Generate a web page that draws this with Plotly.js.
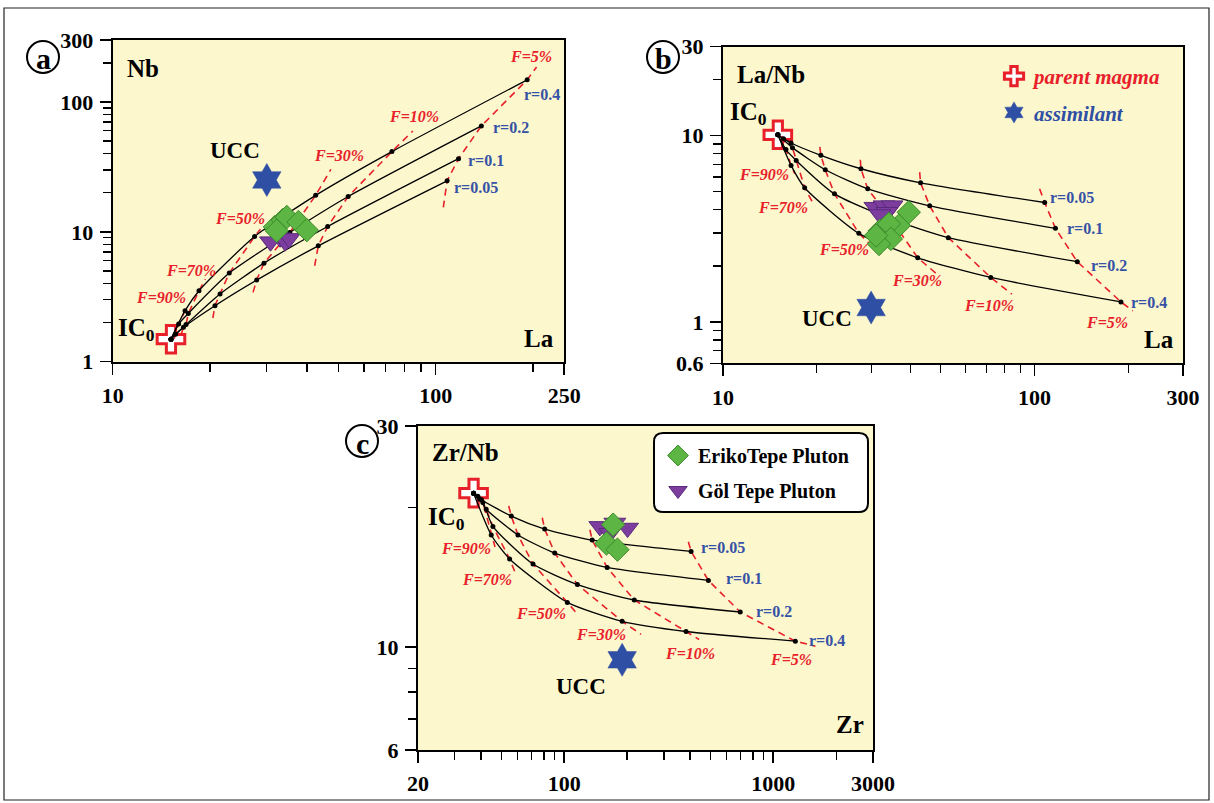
<!DOCTYPE html>
<html><head><meta charset="utf-8">
<script src="https://cdn.plot.ly/plotly-3.0.1.min.js"></script>
<style>html,body{margin:0;padding:0;background:#fff}#chart{width:1214px;height:803px}</style>
</head><body><div id="chart"></div>
<script>
// ---------------- DATA ----------------
// Panel a : Nb vs La
const aIC0_La = [15.15], aIC0_Nb = [1.49];
const aUCC_La = [30.0],  aUCC_Nb = [25.1];
const aR005_La = [15.15, 15.65, 16.56, 20.73, 27.9, 43.3, 108.5];
const aR005_Nb = [1.49, 1.63, 1.84, 2.70, 4.25, 7.80, 24.7];
const aR01_La  = [15.15, 16.87, 21.49, 29.4, 46.3, 117.7];
const aR01_Nb  = [1.49, 1.93, 3.32, 5.74, 11.0, 36.6];
const aR02_La  = [15.15, 16.0, 17.14, 22.96, 35.35, 53.6, 138.5];
const aR02_Nb  = [1.49, 1.95, 2.35, 4.81, 9.88, 18.7, 65.4];
const aR04_La  = [15.15, 16.75, 18.5, 27.5, 42.5, 73.2, 192];
const aR04_Nb  = [1.49, 2.47, 3.52, 9.2, 19.1, 41.5, 148];
const aF5_La  = [105.6, 108.5, 117.7, 138.5, 192, 205.3], aF5_Nb  = [15.4, 24.7, 36.6, 65.4, 148, 185.9];
const aF10_La = [42.2, 43.3, 46.3, 53.6, 73.2, 85.0],     aF10_Nb = [5.48, 7.80, 11.0, 18.7, 41.5, 59.8];
const aF30_La = [27.2, 27.9, 29.4, 35.35, 42.5, 47.4],    aF30_Nb = [3.42, 4.25, 5.74, 9.88, 19.1, 30.3];
const aF50_La = [20.42, 20.73, 21.49, 22.96, 27.5, 28.68],aF50_Nb = [2.17, 2.70, 3.32, 4.81, 9.2, 10.48];
const aF70_La = [16.3, 16.56, 16.87, 17.14, 18.5, 19.35], aF70_Nb = [1.62, 1.84, 1.93, 2.35, 3.52, 4.32];
const aF90_La = [15.5, 15.65, 16.0, 16.75, 17.0],         aF90_Nb = [1.5, 1.63, 1.95, 2.47, 2.7];
const aEri_La = [31.8, 33.6, 34.6, 37.6, 39.9, 32.2], aEri_Nb = [10.9, 12.3, 13.0, 11.9, 10.3, 10.2];
const aGol_La = [30.8, 33.0, 34.2, 35.2],             aGol_Nb = [8.4, 9.0, 8.4, 8.9];

// Panel b : La/Nb vs La
const bIC0_La = [15.0], bIC0_R = [10.1];
const bUCC_La = [29.9], bUCC_R = [1.195];
const bR005_La = [15.0, 15.65, 16.54, 20.62, 27.73, 43.1, 107.9];
const bR005_R  = [10.1, 9.63, 9.13, 7.84, 6.64, 5.58, 4.375];
const bR01_La  = [15.0, 16.71, 21.3, 29.15, 46.1, 116.8];
const bR01_R   = [10.1, 8.62, 6.56, 5.18, 4.20, 3.18];
const bR02_La  = [15.0, 15.93, 17.18, 22.8, 34.6, 52.9, 137.3];
const bR02_R   = [10.1, 8.41, 7.36, 4.87, 3.57, 2.835, 2.105];
const bR04_La  = [15.0, 16.54, 18.29, 27.3, 42.2, 72.4, 189.6];
const bR04_R   = [10.1, 6.92, 5.25, 2.99, 2.21, 1.733, 1.281];
const bF5_La  = [103.9, 107.9, 116.8, 137.3, 189.6, 207],  bF5_R  = [5.18, 4.375, 3.18, 2.105, 1.281, 1.146];
const bF10_La = [42.8, 43.1, 46.1, 52.9, 72.4, 84.6],      bF10_R = [6.37, 5.58, 4.20, 2.835, 1.733, 1.41];
const bF30_La = [27.6, 27.73, 29.15, 34.6, 42.2, 48.4],    bF30_R = [7.42, 6.64, 5.18, 3.57, 2.21, 1.82];
const bF50_La = [20.46, 20.62, 21.3, 22.8, 27.3, 32.1],    bF50_R = [8.69, 7.84, 6.56, 4.87, 2.99, 2.30];
const bF70_La = [16.27, 16.54, 16.71, 17.18, 18.29, 19.51],bF70_R = [9.63, 9.13, 8.62, 7.36, 5.25, 4.30];
const bF90_La = [15.43, 15.65, 15.93, 16.54, 17.0],        bF90_R = [9.92, 9.63, 8.41, 6.92, 6.24];
const bEri_La = [39.5, 36.7, 31.9, 34.1, 34.6, 31.7, 31.0], bEri_R = [3.88, 3.29, 3.09, 3.36, 2.79, 2.62, 2.91];
const bGol_La = [30.75, 32.9, 34.9, 33.6, 31.9],            bGol_R = [4.13, 4.21, 4.21, 3.88, 3.77];

// Panel c : Zr/Nb vs Zr
const cIC0_Zr = [36.88], cIC0_R = [21.49];
const cUCC_Zr = [189.4], cUCC_R = [9.39];
const cR005_Zr = [36.88, 38.67, 40.22, 55.86, 80.7, 136.1, 404.6];
const cR005_R  = [21.49, 21.16, 20.80, 19.18, 17.98, 17.02, 16.09];
const cR01_Zr  = [36.88, 39.4, 42.39, 60.13, 90.15, 160.6, 489.8];
const cR01_R   = [21.49, 20.87, 19.84, 17.46, 15.96, 14.86, 13.93];
const cR02_Zr  = [36.88, 40.86, 45.63, 70.96, 115.7, 216.4, 695];
const cR02_R   = [21.49, 20.52, 18.22, 15.11, 13.65, 12.64, 11.91];
const cR04_Zr  = [36.88, 44.8, 54.85, 103.6, 189.4, 382.8, 1275.5];
const cR04_R   = [21.49, 17.46, 15.50, 12.49, 11.37, 10.81, 10.30];
const cF5_Zr  = [392.8, 404.6, 489.8, 695, 1275.5, 1592], cF5_R  = [16.88, 16.09, 13.93, 11.91, 10.30, 10.05];
const cF10_Zr = [132.8, 136.1, 160.6, 216.4, 382.8, 442.2], cF10_R = [17.92, 17.02, 14.86, 12.64, 10.81, 10.39];
const cF30_Zr = [78.6, 80.7, 90.15, 115.7, 189.4, 233.4],  cF30_R = [19.02, 17.98, 15.96, 13.65, 11.37, 10.66];
const cF50_Zr = [54.3, 55.86, 60.13, 70.96, 103.6, 113.4], cF50_R = [20.17, 19.18, 17.46, 15.11, 12.49, 11.91];
const cF70_Zr = [40.22, 42.39, 45.63, 54.85, 59.2],        cF70_R = [20.80, 19.84, 18.22, 15.50, 14.24];
const cF90_Zr = [38.67, 39.4, 40.86, 44.8, 46.7],          cF90_R = [21.16, 20.87, 20.52, 17.46, 16.45];
const cEri_Zr = [171.6, 159.4, 179.9],        cEri_R = [18.38, 16.74, 16.23];
const cGol_Zr = [148.1, 174.8, 201.0, 165.4], cGol_R = [18.22, 18.53, 18.07, 17.61];

// tick labels
const aXticks = [10, 100, 250], aYticks = [1, 10, 100, 300];
const bXticks = [10, 100, 300], bYticks = [0.6, 1, 10, 30];
const cXticks = [20, 100, 1000, 3000], cYticks = [6, 10, 30];
const fLabels = ['F=90%', 'F=70%', 'F=50%', 'F=30%', 'F=10%', 'F=5%'];
const rLabels = ['r=0.05', 'r=0.1', 'r=0.2', 'r=0.4'];

// ---------------- STYLE ----------------
const W = 1214, H = 803;
const SERIF = '"Liberation Serif", "DejaVu Serif", serif';
const RED = '#e8202a', BLUE = '#3652a6', STAR = '#2f4fa5', GREEN = '#5db544', GREEN_L = '#3c8a2c',
      PURPLE = '#7c3d9f', PURPLE_L = '#5a2a7c', BG = '#fcf7cd';
const PX = p => p / W, PY = p => 1 - p / H;
const L10 = Math.log10;

function curve(x, y, xa, ya) {
  return {type: 'scatter', mode: 'lines+markers', x, y, xaxis: xa, yaxis: ya,
    line: {color: 'black', width: 1.3, shape: 'spline', smoothing: 0.6},
    marker: {color: 'black', size: 5}, showlegend: false, hoverinfo: 'skip'};
}
function fline(x, y, xa, ya) {
  return {type: 'scatter', mode: 'lines', x, y, xaxis: xa, yaxis: ya,
    line: {color: RED, width: 1.6, dash: '7px,5px'}, showlegend: false, hoverinfo: 'skip'};
}
function ic0(x, y, xa, ya, show) {
  return {type: 'scatter', mode: 'markers', x, y, xaxis: xa, yaxis: ya,
    name: '<span style="color:' + RED + '"><i>parent magma</i></span>', legend: 'legend', legendgroup: 'pm', legendrank: 1,
    marker: {symbol: 'cross', size: 23, color: '#ffffff', line: {color: RED, width: 3}},
    showlegend: show, hoverinfo: 'skip'};
}
function ucc(x, y, xa, ya, show) {
  return {type: 'scatter', mode: 'markers', x, y, xaxis: xa, yaxis: ya,
    name: '<span style="color:' + STAR + '"><i>assimilant</i></span>', legend: 'legend', legendgroup: 'as', legendrank: 2,
    marker: {symbol: 'hexagram', size: 25, color: STAR, line: {color: STAR, width: 0.5}},
    showlegend: show, hoverinfo: 'skip'};
}
function eri(x, y, xa, ya, show) {
  return {type: 'scatter', mode: 'markers', x, y, xaxis: xa, yaxis: ya,
    name: 'ErikoTepe Pluton', legend: 'legend2', legendgroup: 'er', legendrank: 1,
    marker: {symbol: 'diamond', size: 18, color: GREEN, line: {color: GREEN_L, width: 1}},
    showlegend: show, hoverinfo: 'skip'};
}
function gol(x, y, xa, ya, show) {
  return {type: 'scatter', mode: 'markers', x, y, xaxis: xa, yaxis: ya,
    name: 'Göl Tepe Pluton', legend: 'legend2', legendgroup: 'go', legendrank: 2,
    marker: {symbol: 'triangle-down', size: 19, color: PURPLE, line: {color: PURPLE_L, width: 1}},
    showlegend: show, hoverinfo: 'skip'};
}

const traces = [];
function panel(xa, ya, IC, UC, Rs, Fs, G, E, showLeg1, showLeg2) {
  traces.push(ic0(IC[0], IC[1], xa, ya, showLeg1));
  Fs.forEach(f => traces.push(fline(f[0], f[1], xa, ya)));
  Rs.forEach(r => traces.push(curve(r[0], r[1], xa, ya)));
  traces.push(gol(G[0], G[1], xa, ya, showLeg2));
  traces.push(eri(E[0], E[1], xa, ya, showLeg2));
  traces.push(ucc(UC[0], UC[1], xa, ya, showLeg1));
}
panel('x', 'y', [aIC0_La, aIC0_Nb], [aUCC_La, aUCC_Nb],
  [[aR005_La, aR005_Nb], [aR01_La, aR01_Nb], [aR02_La, aR02_Nb], [aR04_La, aR04_Nb]],
  [[aF5_La, aF5_Nb], [aF10_La, aF10_Nb], [aF30_La, aF30_Nb], [aF50_La, aF50_Nb], [aF70_La, aF70_Nb], [aF90_La, aF90_Nb]],
  [aGol_La, aGol_Nb], [aEri_La, aEri_Nb], false, false);
panel('x2', 'y2', [bIC0_La, bIC0_R], [bUCC_La, bUCC_R],
  [[bR005_La, bR005_R], [bR01_La, bR01_R], [bR02_La, bR02_R], [bR04_La, bR04_R]],
  [[bF5_La, bF5_R], [bF10_La, bF10_R], [bF30_La, bF30_R], [bF50_La, bF50_R], [bF70_La, bF70_R], [bF90_La, bF90_R]],
  [bGol_La, bGol_R], [bEri_La, bEri_R], true, false);
panel('x3', 'y3', [cIC0_Zr, cIC0_R], [cUCC_Zr, cUCC_R],
  [[cR005_Zr, cR005_R], [cR01_Zr, cR01_R], [cR02_Zr, cR02_R], [cR04_Zr, cR04_R]],
  [[cF5_Zr, cF5_R], [cF10_Zr, cF10_R], [cF30_Zr, cF30_R], [cF50_Zr, cF50_R], [cF70_Zr, cF70_R], [cF90_Zr, cF90_R]],
  [cGol_Zr, cGol_R], [cEri_Zr, cEri_R], false, true);

function minorVals(lo, hi) {
  const out = [];
  for (let e = -1; e <= 3; e++) for (let m = 1; m <= 9; m++) {
    const v = +(m * Math.pow(10, e)).toPrecision(3);
    if (v > lo * 1.0001 && v < hi * 0.9999) out.push(v);
  }
  return out;
}
function axis(dom, lo, hi, ticks, anchor) {
  return {type: 'log', domain: dom, range: [L10(lo), L10(hi)], anchor,
    showline: true, linecolor: 'black', linewidth: 2, mirror: true,
    ticks: 'outside', ticklen: 11, tickwidth: 1.5, tickcolor: 'black',
    tickmode: 'array', tickvals: ticks, ticktext: ticks.map(String), ticklabelstandoff: 2,
    tickfont: {family: SERIF, size: 22, color: 'black', weight: 'bold'},
    minor: {ticks: 'outside', ticklen: 8, tickwidth: 1.3, tickcolor: 'black', tickmode: 'array',
            tickvals: minorVals(lo, hi).filter(v => !ticks.includes(v)), showgrid: false},
    showgrid: false, zeroline: false, fixedrange: true};
}

// annotations
const anns = [];
function T(xa, ya, x, y, text, size, color, italic) {
  anns.push({xref: xa, yref: ya, x: L10(x), y: L10(y), showarrow: false,
    text: italic ? '<i><b>' + text + '</b></i>' : '<b>' + text + '</b>',
    font: {family: SERIF, size, color, weight: 'bold'}, xanchor: 'center', yanchor: 'middle'});
}
// panel a
T('x', 'y', 12.43, 181.5, 'Nb', 25, 'black'); T('x', 'y', 209.4, 1.52, 'La', 25, 'black');
T('x', 'y', 23.85, 42.0, 'UCC', 23, 'black'); T('x', 'y', 11.87, 1.78, 'IC<sub>0</sub>', 25, 'black');
[[14.16, 3.13], [17.45, 5.07], [24.7, 12.74], [50.1, 38.4], [85.5, 77.1], [197, 222]]
  .forEach((p, i) => T('x', 'y', p[0], p[1], fLabels[i], 16, RED, true));
[[133, 21.9], [143.6, 35.6], [170.7, 63.5], [213.9, 114.5]]
  .forEach((p, i) => T('x', 'y', p[0], p[1], rLabels[i], 16, BLUE));
// panel b
T('x2', 'y2', 14.22, 21.4, 'La/Nb', 25, 'black'); T('x2', 'y2', 250.4, 0.806, 'La', 25, 'black');
T('x2', 'y2', 21.63, 1.046, 'UCC', 23, 'black'); T('x2', 'y2', 12.03, 13.14, 'IC<sub>0</sub>', 25, 'black');
[[13.53, 6.19], [15.53, 4.13], [24.54, 2.46], [41.85, 1.677], [71.6, 1.22], [171.1, 0.992]]
  .forEach((p, i) => T('x2', 'y2', p[0], p[1], fLabels[i], 16, RED, true));
[[132.5, 4.67], [145.6, 3.19], [174.1, 2.02], [234.1, 1.27]]
  .forEach((p, i) => T('x2', 'y2', p[0], p[1], rLabels[i], 16, BLUE));
// panel c
T('x3', 'y3', 33.8, 26.3, 'Zr/Nb', 25, 'black'); T('x3', 'y3', 2335, 6.816, 'Zr', 25, 'black');
T('x3', 'y3', 120.4, 8.22, 'UCC', 23, 'black'); T('x3', 'y3', 27.4, 18.92, 'IC<sub>0</sub>', 25, 'black');
[[34.07, 16.32], [42.84, 14.0], [77.1, 11.81], [149.5, 10.66], [400.6, 9.71], [1218, 9.385]]
  .forEach((p, i) => T('x3', 'y3', p[0], p[1], fLabels[i], 16, RED, true));
[[578.1, 16.37], [723.8, 14.05], [1004, 11.91], [1814, 10.36]]
  .forEach((p, i) => T('x3', 'y3', p[0], p[1], rLabels[i], 16, BLUE));

// panel letters
const shapes = [];
[['a', 43, 57], ['b', 663, 57], ['c', 362, 441]].forEach(l => {
  shapes.push({type: 'circle', xref: 'paper', yref: 'paper', xsizemode: 'pixel', ysizemode: 'pixel',
    xanchor: PX(l[1]), yanchor: PY(l[2]), x0: -16, x1: 16, y0: -16, y1: 16,
    line: {color: 'black', width: 2}, fillcolor: 'rgba(0,0,0,0)'});
  anns.push({xref: 'paper', yref: 'paper', x: PX(l[1]), y: PY(l[2] + 2), text: '<b>' + l[0] + '</b>',
    showarrow: false, font: {family: SERIF, size: 30, color: 'black', weight: 'bold'},
    xanchor: 'center', yanchor: 'middle'});
});
// outer frame
shapes.push({type: 'rect', xref: 'paper', yref: 'paper', x0: PX(4), x1: PX(1209), y0: PY(800), y1: PY(8),
  line: {color: '#222', width: 1.2}, fillcolor: 'rgba(0,0,0,0)', layer: 'below'});
// rounded legend box (panel c)
function rr(x0, y0, x1, y1, r) {
  const X = PX, Y = PY;
  return `M ${X(x0 + r)},${Y(y0)} L ${X(x1 - r)},${Y(y0)} Q ${X(x1)},${Y(y0)} ${X(x1)},${Y(y0 + r)} ` +
    `L ${X(x1)},${Y(y1 - r)} Q ${X(x1)},${Y(y1)} ${X(x1 - r)},${Y(y1)} L ${X(x0 + r)},${Y(y1)} ` +
    `Q ${X(x0)},${Y(y1)} ${X(x0)},${Y(y1 - r)} L ${X(x0)},${Y(y0 + r)} Q ${X(x0)},${Y(y0)} ${X(x0 + r)},${Y(y0)} Z`;
}
shapes.push({type: 'path', xref: 'paper', yref: 'paper', path: rr(654, 433, 868, 512, 9),
  line: {color: 'black', width: 2}, fillcolor: '#ffffff', layer: 'above'});

const layout = {
  width: W, height: H, margin: {l: 0, r: 0, t: 0, b: 0},
  paper_bgcolor: '#ffffff', plot_bgcolor: BG, font: {family: SERIF},
  xaxis:  axis([112.7 / W, 564.2 / W], 10, 250, aXticks, 'y'),
  yaxis:  axis([PY(361.7), PY(40)], 1, 300, aYticks, 'x'),
  xaxis2: axis([723 / W, 1183 / W], 10, 300, bXticks, 'y2'),
  yaxis2: axis([PY(363.3), PY(46.7)], 0.6, 30, bYticks, 'x2'),
  xaxis3: axis([418 / W, 873 / W], 20, 3000, cXticks, 'y3'),
  yaxis3: axis([PY(750), PY(426)], 6, 30, cYticks, 'x3'),
  legend: {x: PX(994), xanchor: 'left', y: PY(56), yanchor: 'top', bgcolor: 'rgba(0,0,0,0)',
    borderwidth: 0, font: {family: SERIF, size: 21, color: 'black', weight: 'bold'},
    traceorder: 'grouped', tracegroupgap: 6, itemsizing: 'trace'},
  legend2: {x: PX(658), xanchor: 'left', y: PY(436), yanchor: 'top', bgcolor: 'rgba(0,0,0,0)',
    borderwidth: 0, font: {family: SERIF, size: 20, color: 'black', weight: 'bold'},
    traceorder: 'grouped', tracegroupgap: 6, itemsizing: 'trace'},
  showlegend: true, shapes, annotations: anns, hovermode: false
};
Plotly.newPlot('chart', traces, layout, {displayModeBar: false, staticPlot: true});
</script></body></html>
